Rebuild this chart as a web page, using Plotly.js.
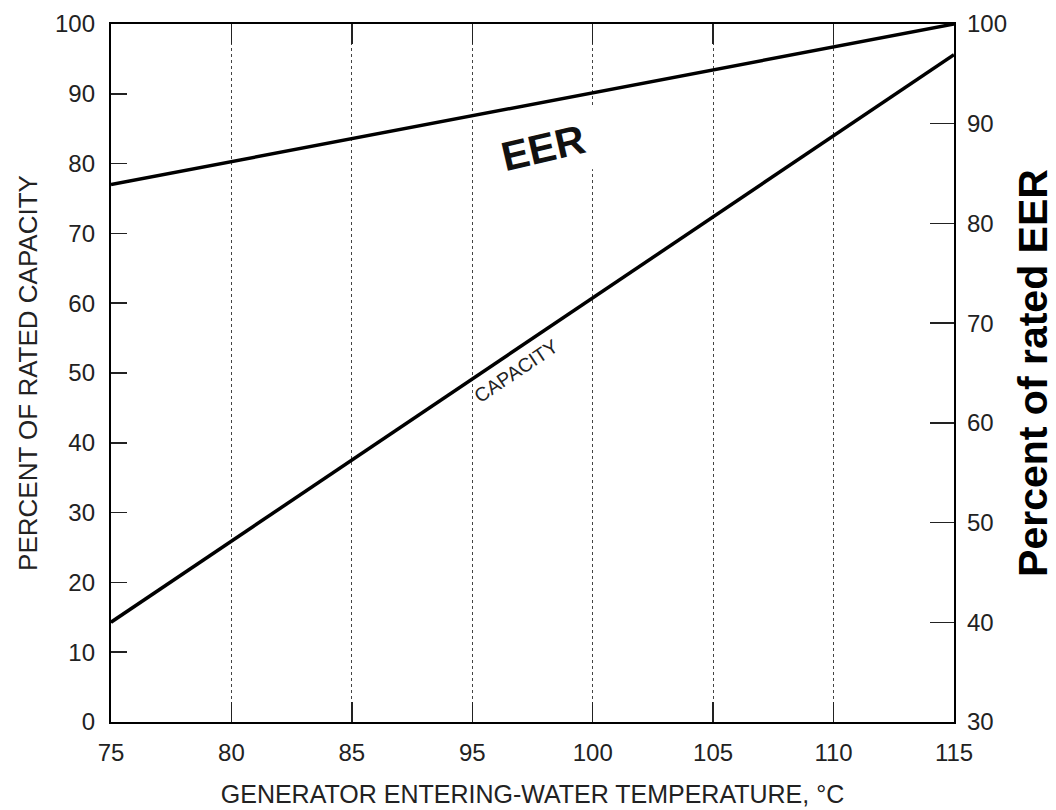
<!DOCTYPE html>
<html>
<head>
<meta charset="utf-8">
<script src="https://cdn.plot.ly/plotly-3.0.1.min.js"></script>
<style>html,body{margin:0;padding:0;background:#fff;}#chart{width:1056px;height:810px;}</style>
</head>
<body>
<div id="chart"></div>
<script>
// Tick labels of the x axis (equally spaced in the original; note 90 is absent)
const tempLabels = ['75','80','85','95','100','105','110','115'];
// Percent of rated capacity (left axis), read at each gridline
const capacity = [14.3, 25.9, 37.5, 49.1, 60.7, 72.4, 84.0, 95.6];
// Percent of rated EER (right axis), read at each gridline
const eer = [83.9, 86.2, 88.5, 90.8, 93.1, 95.4, 97.7, 100.0];
const leftTicks = [0,10,20,30,40,50,60,70,80,90,100];
const rightTicks = [30,40,50,60,70,80,90,100];

const font = 'Liberation Sans, Arial, sans-serif';
const tickFont = {family: font, size: 24, color: '#222'};

const traces = [
  {x: tempLabels, y: capacity, type: 'scatter', mode: 'lines', name: 'CAPACITY',
   line: {color: '#000', width: 3.5}, yaxis: 'y'},
  {x: tempLabels, y: eer, type: 'scatter', mode: 'lines', name: 'EER',
   line: {color: '#000', width: 3.5}, yaxis: 'y2'}
];

const layout = {
  width: 1056, height: 810,
  margin: {l: 111, r: 102, t: 24, b: 88},
  paper_bgcolor: '#fff', plot_bgcolor: '#fff',
  showlegend: false,
  font: {family: font, color: '#222', size: 24},
  xaxis: {
    type: 'category', range: [0, 7],
    showgrid: true, gridcolor: '#444', griddash: 'dot', gridwidth: 1.2,
    ticks: 'inside', ticklen: 20, tickwidth: 1.5, tickcolor: '#222',
    showline: true, linecolor: '#000', linewidth: 2.2, mirror: 'ticks',
    tickfont: tickFont, ticklabelstandoff: 8,
    zeroline: false,
    title: {text: 'GENERATOR ENTERING-WATER TEMPERATURE, °C', font: {family: font, size: 25, color: '#222'}, standoff: 21}
  },
  yaxis: {
    range: [0, 100], tickvals: leftTicks,
    showgrid: false, zeroline: false,
    ticks: 'inside', ticklen: 16, tickwidth: 1.5, tickcolor: '#222',
    showline: true, linecolor: '#000', linewidth: 2.2,
    tickfont: tickFont, ticklabelstandoff: 9,
    title: {text: 'PERCENT OF RATED CAPACITY', font: {family: font, size: 26, color: '#222'}, standoff: 10}
  },
  yaxis2: {
    overlaying: 'y', side: 'right',
    range: [30, 100], tickvals: rightTicks,
    showgrid: false, zeroline: false,
    ticks: 'inside', ticklen: 24, tickwidth: 1.5, tickcolor: '#222',
    showline: true, linecolor: '#000', linewidth: 2.2,
    tickfont: tickFont, ticklabelstandoff: 6,
    title: {text: '<b>Percent of rated EER</b>', font: {family: font, size: 41, color: '#000'}, standoff: 14}
  },
  shapes: [
    {type: 'rect', layer: 'between', xref: 'x', yref: 'y', x0: 3.96, x1: 4.04, y0: 79.2, y1: 88.2,
     fillcolor: '#fff', line: {width: 0}}
  ],
  annotations: [
    {text: '<b>EER</b>', x: 3.59, y: 82.2, xref: 'x', yref: 'y', showarrow: false,
     textangle: -13, font: {family: font, size: 41, color: '#111'}},
    {text: 'CAPACITY', x: 3.36, y: 50.3, xref: 'x', yref: 'y', showarrow: false,
     textangle: -34, font: {family: font, size: 19.5, color: '#222'}}
  ]
};

Plotly.newPlot('chart', traces, layout, {displayModeBar: false, staticPlot: true});
</script>
</body>
</html>
